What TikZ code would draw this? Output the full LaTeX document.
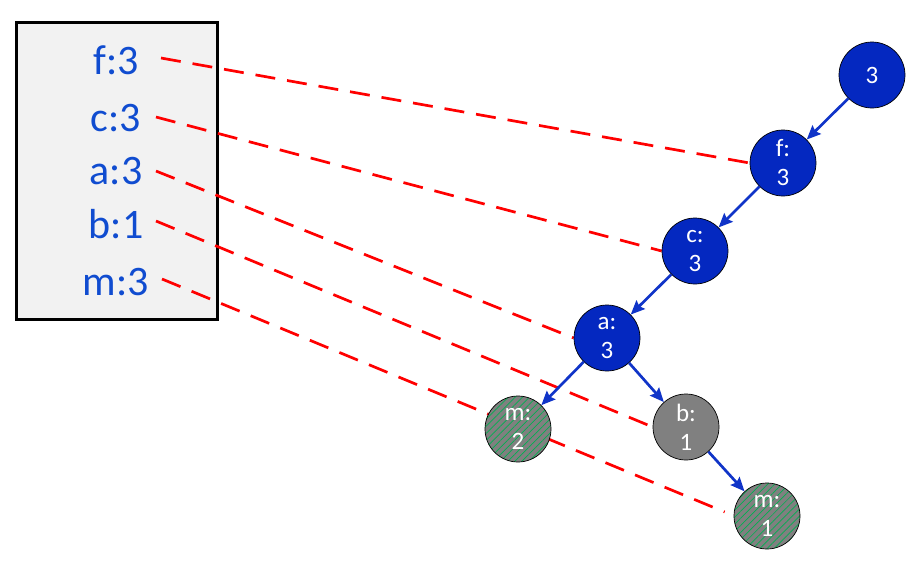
\documentclass[tikz,border=0pt]{standalone}
\usepackage{fontspec}
\setmainfont{Carlito}
\usepackage{tikz}
\usetikzlibrary{arrows.meta,backgrounds,patterns.meta}
\definecolor{treeblue}{RGB}{4,40,192}
\definecolor{edgeblue}{RGB}{16,52,200}
\definecolor{lblblue}{RGB}{16,76,208}
\definecolor{linkred}{RGB}{255,0,0}
\definecolor{hatchgreen}{RGB}{0,176,80}
\definecolor{boxgray}{RGB}{242,242,242}

\begin{document}
\begin{tikzpicture}[x=1pt,y=-1pt,
  tnode/.style={circle,draw=black,line width=0.7pt,fill=treeblue,minimum size=66pt,
                inner sep=0pt,text=white,align=center,font=\fontsize{25}{29}\selectfont},
  gnode/.style={tnode,fill=gray},
  hnode/.style={tnode,fill=none,preaction={fill=gray},
                pattern={Lines[angle=45,distance=5pt,line width=0.7pt]},pattern color=hatchgreen},
  lbl/.style={text=lblblue,font=\fontsize{42}{44}\selectfont},
  arr/.style={-{Stealth[length=14pt,width=12pt,inset=2pt]},edgeblue,line width=2.7pt},
  link/.style={linkred,line width=2.7pt,dash pattern=on 20pt off 12pt}]
  \useasboundingbox (0,0) rectangle (906,566);

  % header table
  \node[lbl] (lf) at (116,60)  {f:3};
  \node[lbl] (lc) at (116,118) {c:3};
  \node[lbl] (la) at (116,171) {a:3};
  \node[lbl] (lb) at (116,224) {b:1};
  \node[lbl] (lm) at (116,282) {m:3};

  % tree
  \node[tnode] (root) at (872,75)  {3};
  \node[tnode] (f)    at (783,163) {f:\\3};
  \node[tnode] (c)    at (695,251) {c:\\3};
  \node[tnode] (a)    at (607,338) {a:\\3};
  \node[hnode] (m2)   at (518,429) {m:\\2};
  \node[gnode] (b)    at (686,427) {b:\\1};
  \node[hnode] (m1)   at (767,516) {m:\\1};

  \draw[arr] (root) -- (f);
  \draw[arr] (f) -- (c);
  \draw[arr] (c) -- (a);
  \draw[arr] (a) -- (m2);
  \draw[arr] (a) -- (b);
  \draw[arr] (b) -- (m1);

  \begin{scope}[on background layer]
    \node[draw,line width=3pt,fill=boxgray,inner sep=0pt,
          minimum width=201pt,minimum height=297pt] (box) at (117,171) {};
    \draw[link] ([xshift=45pt,yshift=2pt]lf.center) -- (f.west);
    \draw[link] ([xshift=40pt,yshift=1pt]lc.center) -- (c.west);
    \draw[link] ([xshift=40pt]la.center) -- (a.west);
    \draw[link] ([xshift=40pt,yshift=3pt]lb.center) -- (b.west);
    \draw[link] ([xshift=46pt,yshift=3pt]lm.center) -- ([xshift=-9pt,yshift=4pt]m1.west);
  \end{scope}
\end{tikzpicture}
\end{document}
